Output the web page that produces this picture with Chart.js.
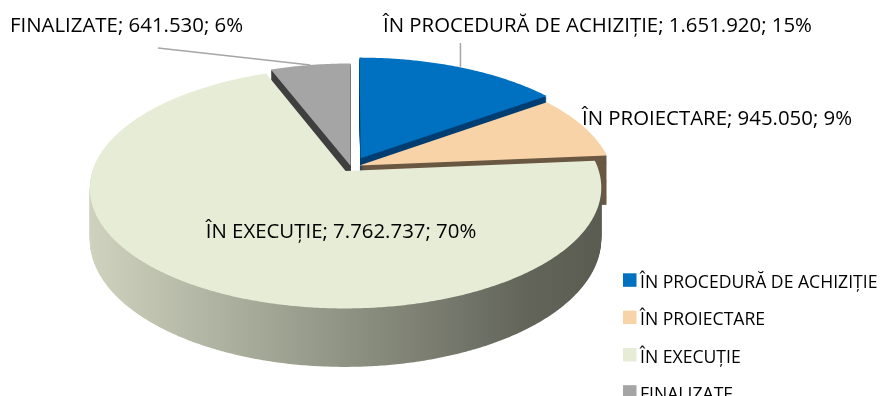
<!DOCTYPE html>
<html>
<head>
<meta charset="utf-8">
<script src="https://cdn.jsdelivr.net/npm/chart.js@4/dist/chart.umd.min.js"></script>
<style>
  html, body { margin: 0; padding: 0; background: #ffffff; overflow: hidden; }
  #wrap { position: relative; width: 881px; height: 396px; }
</style>
</head>
<body>
<div id="wrap"><canvas id="c" width="881" height="396"></canvas></div>
<script>
// Stadiul obiectivelor de investiții
const categories = ['ÎN PROCEDURĂ DE ACHIZIȚIE', 'ÎN PROIECTARE', 'ÎN EXECUȚIE', 'FINALIZATE'];
const values = [1651920, 945050, 7762737, 641530];
const percentLabels = ['15%', '9%', '70%', '6%'];

// Culori: fața de sus și peretele lateral al fiecărei felii
const topColors = ['#0070C0', '#F8D3A7', '#E6ECD6', '#A5A5A5'];
const sideColors = ['#003E72', '#6A5843', null, '#3F3F3F'];
const explode = [0.085, 0.035, 0.04, 0.01];

// Proiecție în perspectivă a discului (coordonate normalizate la raza 1)
const HALF_W = 252, HALF_H = 117, PERSP = 0.14, DEPTH = 50;

function project(cx, cy, nx, ny, z) {
  const w = 1 - PERSP * ny;
  return [cx + HALF_W * nx / w, cy + (HALF_H * ny + z) / w];
}

function fmt(v) {
  return String(v).replace(/\B(?=(\d{3})+(?!\d))/g, '.');
}

function slicePath(ctx, s, z) {
  const ox = s.d * Math.cos(s.mid), oy = s.d * Math.sin(s.mid);
  ctx.beginPath();
  let p = project(s.cx, s.cy, ox, oy, z);
  ctx.moveTo(p[0], p[1]);
  const n = Math.max(2, Math.ceil((s.end - s.start) / (Math.PI / 360)));
  for (let k = 0; k <= n; k++) {
    const a = s.start + (s.end - s.start) * k / n;
    p = project(s.cx, s.cy, ox + Math.cos(a), oy + Math.sin(a), z);
    ctx.lineTo(p[0], p[1]);
  }
  ctx.closePath();
}

function outerMid(s) {
  const ox = s.d * Math.cos(s.mid), oy = s.d * Math.sin(s.mid);
  return project(s.cx, s.cy, ox + Math.cos(s.mid), oy + Math.sin(s.mid), 0);
}

function getSlices(chart) {
  const meta = chart.getDatasetMeta(0);
  return meta.data.map((arc, i) => ({
    i,
    cx: arc.x, cy: arc.y,
    start: arc.startAngle, end: arc.endAngle,
    mid: (arc.startAngle + arc.endAngle) / 2,
    d: explode[i]
  }));
}

const pie3d = {
  id: 'pie3d',
  beforeDatasetsDraw(chart) {
    const ctx = chart.ctx;
    const slices = getSlices(chart);
    // de la feliile din spate spre cele din față
    const order = slices.slice().sort((a, b) => Math.sin(a.mid) - Math.sin(b.mid));
    ctx.save();
    for (const s of order) {
      let side = sideColors[s.i];
      if (!side) {
        let minX = Infinity, maxX = -Infinity;
        for (let k = 0; k <= 64; k++) {
          const a = s.start + (s.end - s.start) * k / 64;
          const p = project(s.cx, s.cy, s.d * Math.cos(s.mid) + Math.cos(a), s.d * Math.sin(s.mid) + Math.sin(a), 0);
          minX = Math.min(minX, p[0]); maxX = Math.max(maxX, p[0]);
        }
        const g = ctx.createLinearGradient(minX, 0, maxX, 0);
        g.addColorStop(0, '#CED2BE');
        g.addColorStop(0.5, '#8F9383');
        g.addColorStop(0.85, '#63655B');
        g.addColorStop(1, '#5A5C52');
        side = g;
      }
      ctx.fillStyle = side;
      for (let z = DEPTH; z >= 1; z--) {
        slicePath(ctx, s, z);
        ctx.fill();
      }
      ctx.fillStyle = chart.data.datasets[0].backgroundColor[s.i];
      slicePath(ctx, s, 0);
      ctx.fill();
    }
    ctx.restore();
    return false;
  },
  afterDraw(chart) {
    const ctx = chart.ctx;
    const slices = getSlices(chart);
    ctx.save();

    // linii de legătură pentru etichetele exterioare
    ctx.strokeStyle = '#A6A6A6';
    ctx.lineWidth = 1.5;
    const g = outerMid(slices[3]);
    ctx.beginPath();
    ctx.moveTo(g[0], g[1]);
    ctx.lineTo(158, 48);
    ctx.stroke();
    const b = outerMid(slices[0]);
    ctx.beginPath();
    ctx.moveTo(b[0], b[1]);
    ctx.lineTo(b[0], 43);
    ctx.stroke();

    // etichete de date
    const labelLayout = [
      { x: 383, y: 32, align: 'left' },
      { x: 582, y: 125, align: 'left' },
      { x: 341, y: 238, align: 'center' },
      { x: 10, y: 32, align: 'left' }
    ];
    ctx.font = '20.4px "Open Sans"';
    ctx.fillStyle = '#000000';
    ctx.textBaseline = 'alphabetic';
    categories.forEach((c, i) => {
      const L = labelLayout[i];
      ctx.textAlign = L.align;
      ctx.fillText(c + '; ' + fmt(values[i]) + '; ' + percentLabels[i], L.x, L.y);
    });

    // legenda
    ctx.font = '17.6px "Open Sans"';
    ctx.textAlign = 'left';
    const colors = chart.data.datasets[0].backgroundColor;
    chart.data.labels.forEach((lab, i) => {
      const yc = 280 + i * 37.3;
      ctx.fillStyle = colors[i];
      ctx.fillRect(623, yc - 6.7, 13.5, 13.5);
      ctx.fillStyle = '#000000';
      ctx.fillText(lab, 640, yc + 8);
    });
    ctx.restore();
  }
};

function build() {
  new Chart(document.getElementById('c'), {
    type: 'pie',
    data: {
      labels: categories,
      datasets: [{ data: values, backgroundColor: topColors, borderWidth: 0 }]
    },
    options: {
      responsive: false,
      animation: false,
      layout: { padding: { left: 0, right: 179, top: 0, bottom: 62 } },
      plugins: { legend: { display: false }, tooltip: { enabled: false } }
    },
    plugins: [pie3d]
  });
}

if (document.fonts && document.fonts.load) {
  Promise.all([document.fonts.load('20px "Open Sans"'), document.fonts.load('18px "Open Sans"')])
    .then(build, build);
} else {
  build();
}
</script>
</body>
</html>
